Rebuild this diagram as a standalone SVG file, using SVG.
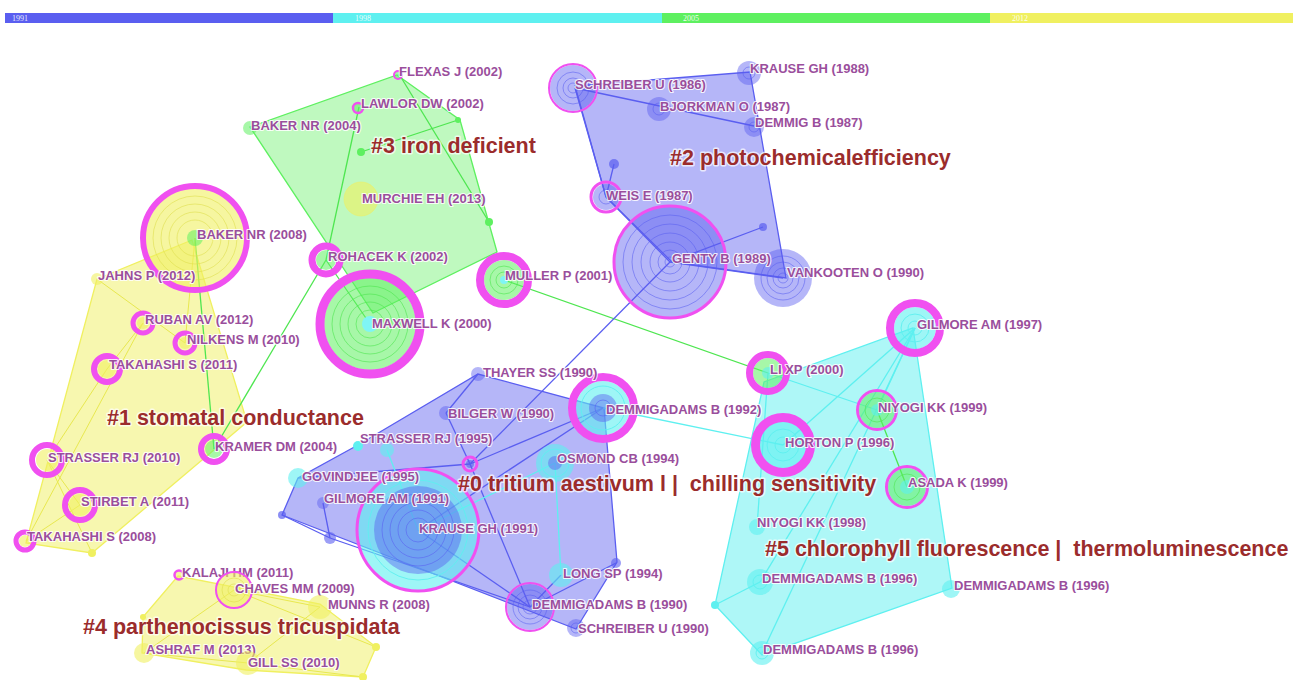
<svg xmlns="http://www.w3.org/2000/svg" width="1293" height="680" viewBox="0 0 1293 680">
<style>
text{font-family:"Liberation Sans",Arial,sans-serif}
.lb{font-size:13px;font-weight:bold;fill:#9a4e9c;stroke:#fff;stroke-width:2.2;stroke-opacity:.85;paint-order:stroke;stroke-linejoin:round}
.cl{font-size:21.5px;font-weight:bold;fill:#9b2c2c;stroke:#fff;stroke-width:3;stroke-opacity:.7;paint-order:stroke;stroke-linejoin:round;white-space:pre}
.yr{font-family:"Liberation Serif",serif;font-size:8px;fill:#fff;fill-opacity:.9}
.pb{fill:#5a5ef0;fill-opacity:.45;stroke:#5a5ef0;stroke-width:1.3}
.pc{fill:#5ef0f0;fill-opacity:.5;stroke:#5ef0f0;stroke-width:1.3}
.pg{fill:#5ef060;fill-opacity:.4;stroke:#5ef060;stroke-width:1.3}
.py{fill:#f0f060;fill-opacity:.5;stroke:#f0f060;stroke-width:1.3}
.eb{stroke:#5a5ef0;stroke-width:1.3}
.ec{stroke:#5ef0f0;stroke-width:1.3}
.eg{stroke:#4ee650;stroke-width:1.3}
.ey{stroke:#e8e850;stroke-width:1}
.b{fill:#5a5ef0;fill-opacity:.45}
.c{fill:#5ef0f0;fill-opacity:.6}
.g{fill:#5ef060;fill-opacity:.55}
.y{fill:#f0f060;fill-opacity:.6}
.m{fill:none;stroke:#f050f0}
.rb{fill:none;stroke:#5a5ef0;stroke-opacity:.55;stroke-width:1}
.rc{fill:none;stroke:#5ef0f0;stroke-opacity:.9;stroke-width:1}
.rg{fill:none;stroke:#4ee650;stroke-opacity:.6;stroke-width:1}
.ry{fill:none;stroke:#e0e050;stroke-opacity:.6;stroke-width:1}
</style>
<rect width="1293" height="680" fill="#fff"/>
<g id="timeline">
<rect x="5" y="13" width="328" height="10" fill="#5a5ef0"/>
<rect x="333" y="13" width="329" height="10" fill="#5ef0f0"/>
<rect x="662" y="13" width="328" height="10" fill="#5ef060"/>
<rect x="990" y="13" width="303" height="10" fill="#f0f060"/>
<text class="yr" x="12" y="21">1991</text>
<text class="yr" x="355" y="21">1998</text>
<text class="yr" x="683" y="21">2005</text>
<text class="yr" x="1012" y="21">2012</text>
</g>
<g id="clusters">
<polygon class="pg" points="397,75 460,120 497,252 373,313 250,127"/>
<polygon class="pb" points="575,86 750,72 786,278 672,262 606,197"/>
<polygon class="py" points="97,279 192,240 247,422 92,553 26,543"/>
<polygon class="pb" points="282,515 298,478 358,445 478,374 604,408 617,562 576,629"/>
<polygon class="pc" points="913,328 952,588 762,655 715,605 764,382"/>
<polygon class="py" points="178,576 320,604 376,647 363,677 246,670 142,653 143,617"/>
</g>
<g id="connectors" fill="none">
<line class="eg" x1="399" y1="74" x2="489" y2="222"/>
<line class="eg" x1="361" y1="152" x2="458" y2="120"/>
<line class="eg" x1="359" y1="107" x2="326" y2="260"/>
<line class="eg" x1="326" y1="260" x2="214" y2="449" stroke-width="1"/>
<line class="eg" x1="195" y1="238" x2="214" y2="449" stroke-width="1"/>
<line class="eg" x1="326" y1="260" x2="370" y2="324" stroke-width="2"/>
<line class="eg" x1="504" y1="280" x2="768" y2="373" stroke-width="1.8"/>
<line class="eg" x1="877" y1="410" x2="907" y2="487" stroke-width="1.8"/>
<line class="eb" x1="575" y1="88" x2="754" y2="126" stroke-width="1.8"/>
<line class="eb" x1="575" y1="88" x2="606" y2="197" stroke-width="1.8"/>
<line class="eb" x1="606" y1="197" x2="670" y2="262" stroke-width="1.8"/>
<line class="eb" x1="614" y1="164" x2="606" y2="197"/>
<line class="eb" x1="670" y1="262" x2="763" y2="227"/>
<line class="eb" x1="670" y1="262" x2="783" y2="278" stroke-width="2.5"/>
<line class="eb" x1="670" y1="262" x2="470" y2="464"/>
<line class="eb" x1="478" y1="374" x2="446" y2="413"/>
<line class="eb" x1="446" y1="413" x2="470" y2="464"/>
<line class="eb" x1="298" y1="478" x2="470" y2="464" stroke-width="1.8"/>
<line class="eb" x1="470" y1="464" x2="603" y2="408" stroke-width="1.8"/>
<line class="eb" x1="418" y1="530" x2="603" y2="408"/>
<line class="eb" x1="418" y1="530" x2="530" y2="607"/>
<line class="eb" x1="470" y1="464" x2="530" y2="607"/>
<line class="eb" x1="282" y1="515" x2="330" y2="538"/>
<line class="eb" x1="323" y1="503" x2="330" y2="538"/>
<line class="eb" x1="330" y1="538" x2="530" y2="607"/>
<line class="eb" x1="561" y1="575" x2="530" y2="607"/>
<line class="eb" x1="530" y1="607" x2="616" y2="563"/>
<line class="ec" x1="387" y1="450" x2="418" y2="530"/>
<line class="ec" x1="555" y1="463" x2="561" y2="575"/>
<line class="ec" x1="555" y1="463" x2="418" y2="530"/>
<line class="ec" x1="603" y1="408" x2="783" y2="445"/>
<line class="ec" x1="915" y1="328" x2="783" y2="445"/>
<line class="ec" x1="915" y1="328" x2="877" y2="410"/>
<line class="ec" x1="915" y1="328" x2="762" y2="653"/>
<line class="ec" x1="915" y1="328" x2="760" y2="582"/>
<line class="ec" x1="768" y1="373" x2="877" y2="410" stroke-width="1.8"/>
<line class="ec" x1="768" y1="373" x2="757" y2="527"/>
<line class="ec" x1="715" y1="605" x2="760" y2="582"/>
<line class="ey" x1="97" y1="279" x2="185" y2="343"/>
<line class="ey" x1="195" y1="238" x2="185" y2="343"/>
<line class="ey" x1="143" y1="323" x2="107" y2="369"/>
<line class="ey" x1="107" y1="369" x2="47" y2="460"/>
<line class="ey" x1="143" y1="323" x2="26" y2="541"/>
<line class="ey" x1="47" y1="460" x2="80" y2="505"/>
<line class="ey" x1="47" y1="460" x2="92" y2="553"/>
<line class="ey" x1="80" y1="505" x2="26" y2="541"/>
<line class="ey" x1="234" y1="590" x2="320" y2="607"/>
<line class="ey" x1="234" y1="590" x2="376" y2="647"/>
<line class="ey" x1="234" y1="590" x2="144" y2="653"/>
<line class="ey" x1="320" y1="607" x2="248" y2="663"/>
<line class="ey" x1="248" y1="663" x2="363" y2="677"/>
<line class="ey" x1="144" y1="653" x2="248" y2="663"/>
</g>
<g id="minor-nodes">
<circle cx="458" cy="120" r="3" fill="#5ef060"/>
<circle cx="489" cy="222" r="4" fill="#5ef060"/>
<circle cx="361" cy="152" r="4" fill="#5ef060"/>
<circle cx="614" cy="164" r="5" fill="#5a5ef0" fill-opacity=".7"/>
<circle cx="763" cy="227" r="4" fill="#5a5ef0" fill-opacity=".7"/>
<circle cx="470" cy="464" r="7" class="m" stroke-width="3"/>
<circle cx="470" cy="464" r="4" fill="#5a5ef0" fill-opacity=".6"/>
<circle cx="282" cy="515" r="4" fill="#5a5ef0" fill-opacity=".7"/>
<circle cx="330" cy="538" r="6" fill="#5a5ef0" fill-opacity=".6"/>
<circle cx="616" cy="563" r="5" fill="#5a5ef0" fill-opacity=".6"/>
<circle cx="358" cy="446" r="5" fill="#5ef0f0"/>
<circle cx="92" cy="553" r="4" fill="#f0f060"/>
<circle cx="715" cy="605" r="4" fill="#5ef0f0"/>
<circle cx="376" cy="647" r="4" fill="#f0f060"/>
<circle cx="363" cy="677" r="4" fill="#f0f060"/>
<circle cx="143" cy="617" r="3" fill="#f0f060"/>
</g>
<g id="n-krause-1991">
<circle cx="418" cy="530" r="60" class="c" fill-opacity=".5"/>
<circle cx="418" cy="530" r="50" class="rc"/>
<circle cx="418" cy="530" r="44" class="b" fill-opacity=".6"/>
<circle cx="418" cy="530" r="36" class="rb"/>
<circle cx="418" cy="530" r="28" class="rb"/>
<circle cx="418" cy="530" r="20" class="rb"/>
<circle cx="418" cy="530" r="12" class="rb"/>
<circle cx="418" cy="530" r="61" class="m" stroke-width="3"/>
<text class="lb" x="419" y="533">KRAUSE GH (1991)</text>
</g>
<g id="n-vankooten">
<circle cx="783" cy="278" r="29" class="b"/>
<circle cx="783" cy="278" r="22" class="rb"/>
<circle cx="783" cy="278" r="16" class="rb"/>
<circle cx="783" cy="278" r="10" class="rb"/>
<circle cx="783" cy="278" r="5" class="rb"/>
<text class="lb" x="787" y="277">VANKOOTEN O (1990)</text>
</g>
<g id="n-genty">
<circle cx="670" cy="262" r="56" class="b" fill-opacity=".4"/>
<circle cx="670" cy="262" r="47" class="rb"/>
<circle cx="670" cy="262" r="38" class="rb"/>
<circle cx="670" cy="262" r="29" class="rb"/>
<circle cx="670" cy="262" r="20" class="rb"/>
<circle cx="670" cy="262" r="12" class="rb"/>
<circle cx="670" cy="262" r="5" class="rb"/>
<circle cx="670" cy="262" r="56" class="m" stroke-width="3"/>
<text class="lb" x="672" y="263">GENTY B (1989)</text>
</g>
<g id="n-baker-2008">
<circle cx="195" cy="238" r="50" class="y" fill-opacity=".45"/>
<circle cx="195" cy="238" r="42" class="ry"/>
<circle cx="195" cy="238" r="34" class="ry"/>
<circle cx="195" cy="238" r="26" class="ry"/>
<circle cx="195" cy="238" r="18" class="ry"/>
<circle cx="195" cy="238" r="8" class="g"/>
<circle cx="195" cy="238" r="52" class="m" stroke-width="6"/>
<text class="lb" x="197" y="239">BAKER NR (2008)</text>
</g>
<g id="n-maxwell">
<circle cx="370" cy="324" r="46" class="g" fill-opacity=".5"/>
<circle cx="370" cy="324" r="38" class="rg"/>
<circle cx="370" cy="324" r="30" class="rg"/>
<circle cx="370" cy="324" r="22" class="rg"/>
<circle cx="370" cy="324" r="14" class="rg"/>
<circle cx="370" cy="324" r="8" fill="#7ff5f5"/>
<circle cx="370" cy="324" r="50" class="m" stroke-width="9"/>
<text class="lb" x="372" y="328">MAXWELL K (2000)</text>
</g>
<g id="n-demmigadams-1992">
<circle cx="603" cy="408" r="27" class="c"/>
<circle cx="603" cy="408" r="22" class="rc" stroke="#fff"/>
<circle cx="603" cy="408" r="14" class="b" fill-opacity=".55"/>
<circle cx="603" cy="408" r="8" class="rb"/>
<circle cx="603" cy="408" r="31" class="m" stroke-width="8"/>
<text class="lb" x="606" y="414">DEMMIGADAMS B (1992)</text>
</g>
<g id="n-horton">
<circle cx="783" cy="445" r="24" class="c"/>
<circle cx="783" cy="445" r="16" class="rc" stroke="#fff"/>
<circle cx="783" cy="445" r="8" class="rc" stroke="#fff"/>
<circle cx="783" cy="445" r="27.5" class="m" stroke-width="9"/>
<text class="lb" x="785" y="447">HORTON P (1996)</text>
</g>
<g id="n-gilmore-1997">
<circle cx="915" cy="328" r="21" class="c"/>
<circle cx="915" cy="328" r="14" class="rc" stroke="#fff"/>
<circle cx="915" cy="328" r="7" class="rc" stroke="#fff"/>
<circle cx="915" cy="328" r="25" class="m" stroke-width="8"/>
<text class="lb" x="917" y="329">GILMORE AM (1997)</text>
</g>
<g id="n-lixp">
<circle cx="768" cy="373" r="15" class="g"/>
<circle cx="768" cy="373" r="6" class="c"/>
<circle cx="768" cy="373" r="18.5" class="m" stroke-width="7"/>
<text class="lb" x="770" y="374">LI XP (2000)</text>
</g>
<g id="n-niyogi-1999">
<circle cx="877" cy="410" r="18" class="g"/>
<circle cx="877" cy="410" r="12" class="rg"/>
<circle cx="877" cy="410" r="6" class="c"/>
<circle cx="877" cy="410" r="19.5" class="m" stroke-width="3"/>
<text class="lb" x="878" y="412">NIYOGI KK (1999)</text>
</g>
<g id="n-asada">
<circle cx="907" cy="487" r="19" class="g"/>
<circle cx="907" cy="487" r="13" class="rg"/>
<circle cx="907" cy="487" r="7" class="c"/>
<circle cx="907" cy="487" r="20.5" class="m" stroke-width="3"/>
<text class="lb" x="908" y="487">ASADA K (1999)</text>
</g>
<g id="n-niyogi-1998">
<circle cx="757" cy="527" r="8" class="c"/>
<text class="lb" x="757" y="527">NIYOGI KK (1998)</text>
</g>
<g id="n-demmigadams-1996a">
<circle cx="760" cy="582" r="13" class="c"/>
<circle cx="760" cy="582" r="7" class="rc" stroke="#fff"/>
<text class="lb" x="762" y="583">DEMMIGADAMS B (1996)</text>
</g>
<g id="n-demmigadams-1996b">
<circle cx="951" cy="589" r="9" class="c"/>
<text class="lb" x="954" y="590">DEMMIGADAMS B (1996)</text>
</g>
<g id="n-demmigadams-1996c">
<circle cx="762" cy="653" r="12" class="c"/>
<circle cx="762" cy="653" r="6" class="rc" stroke="#fff"/>
<text class="lb" x="763" y="654">DEMMIGADAMS B (1996)</text>
</g>
<g id="n-muller">
<circle cx="504" cy="280" r="20" class="g"/>
<circle cx="504" cy="280" r="14" class="rg"/>
<circle cx="504" cy="280" r="8" class="rg"/>
<circle cx="504" cy="280" r="4" fill="#7ff5f5"/>
<circle cx="504" cy="280" r="24" class="m" stroke-width="8"/>
<text class="lb" x="505" y="280">MULLER P (2001)</text>
</g>
<g id="n-rohacek">
<circle cx="326" cy="260" r="10" class="g"/>
<circle cx="326" cy="260" r="14" class="m" stroke-width="7"/>
<text class="lb" x="328" y="261">ROHACEK K (2002)</text>
</g>
<g id="n-murchie">
<circle cx="361" cy="199" r="17" class="y" stroke="#f0f060" stroke-opacity=".5"/>
<text class="lb" x="362" y="203">MURCHIE EH (2013)</text>
</g>
<g id="n-baker-2004">
<circle cx="250" cy="128" r="7" class="g"/>
<text class="lb" x="251" y="130">BAKER NR (2004)</text>
</g>
<g id="n-lawlor">
<circle cx="358" cy="108" r="5" class="g"/>
<circle cx="358" cy="108" r="5" class="m" stroke-width="2.5"/>
<text class="lb" x="361" y="108">LAWLOR DW (2002)</text>
</g>
<g id="n-flexas">
<circle cx="398" cy="75" r="4" class="g"/>
<circle cx="398" cy="75" r="4" class="m" stroke-width="2"/>
<text class="lb" x="399" y="76">FLEXAS J (2002)</text>
</g>
<g id="n-schreiber-1986">
<circle cx="573" cy="88" r="23" class="b"/>
<circle cx="573" cy="88" r="16" class="rb"/>
<circle cx="573" cy="88" r="10" class="rb"/>
<circle cx="573" cy="88" r="5" class="rb"/>
<circle cx="573" cy="88" r="24" class="m" stroke-width="2"/>
<text class="lb" x="575" y="89">SCHREIBER U (1986)</text>
</g>
<g id="n-krause-1988">
<circle cx="749" cy="73" r="12" class="b"/>
<circle cx="749" cy="73" r="6" class="rb"/>
<text class="lb" x="750" y="73">KRAUSE GH (1988)</text>
</g>
<g id="n-bjorkman">
<circle cx="659" cy="109" r="12" class="b"/>
<circle cx="659" cy="109" r="6" class="rb"/>
<text class="lb" x="660" y="111">BJORKMAN O (1987)</text>
</g>
<g id="n-demmig-1987">
<circle cx="754" cy="127" r="10" class="b"/>
<circle cx="754" cy="127" r="5" class="rb"/>
<text class="lb" x="755" y="127">DEMMIG B (1987)</text>
</g>
<g id="n-weis">
<circle cx="606" cy="197" r="13" class="b"/>
<circle cx="606" cy="197" r="7" class="rb"/>
<circle cx="606" cy="197" r="15" class="m" stroke-width="3"/>
<text class="lb" x="606" y="200">WEIS E (1987)</text>
</g>
<g id="n-jahns">
<circle cx="97" cy="279" r="6" class="y"/>
<text class="lb" x="98" y="280">JAHNS P (2012)</text>
</g>
<g id="n-ruban">
<circle cx="143" cy="323" r="6" class="y"/>
<circle cx="143" cy="323" r="10" class="m" stroke-width="5"/>
<text class="lb" x="145" y="324">RUBAN AV (2012)</text>
</g>
<g id="n-nilkens">
<circle cx="185" cy="343" r="6" class="y"/>
<circle cx="185" cy="343" r="10" class="m" stroke-width="5"/>
<text class="lb" x="187" y="344">NILKENS M (2010)</text>
</g>
<g id="n-takahashi-2011">
<circle cx="107" cy="369" r="9" class="y"/>
<circle cx="107" cy="369" r="13" class="m" stroke-width="6"/>
<text class="lb" x="109" y="369">TAKAHASHI S (2011)</text>
</g>
<g id="n-kramer">
<circle cx="214" cy="449" r="9" class="g"/>
<circle cx="214" cy="449" r="13" class="m" stroke-width="6"/>
<text class="lb" x="215" y="451">KRAMER DM (2004)</text>
</g>
<g id="n-strasser-2010">
<circle cx="47" cy="460" r="11" class="y"/>
<circle cx="47" cy="460" r="15" class="m" stroke-width="6"/>
<text class="lb" x="48" y="462">STRASSER RJ (2010)</text>
</g>
<g id="n-stirbet">
<circle cx="80" cy="505" r="11" class="y"/>
<circle cx="80" cy="505" r="15" class="m" stroke-width="6"/>
<text class="lb" x="81" y="506">STIRBET A (2011)</text>
</g>
<g id="n-takahashi-2008">
<circle cx="25" cy="541" r="6" class="y"/>
<circle cx="25" cy="541" r="9" class="m" stroke-width="5"/>
<text class="lb" x="27" y="541">TAKAHASHI S (2008)</text>
</g>
<g id="n-thayer">
<circle cx="478" cy="374" r="7" class="b" fill-opacity=".65"/>
<text class="lb" x="483" y="377">THAYER SS (1990)</text>
</g>
<g id="n-bilger">
<circle cx="446" cy="413" r="7" class="b" fill-opacity=".65"/>
<text class="lb" x="448" y="418">BILGER W (1990)</text>
</g>
<g id="n-strasser-1995">
<circle cx="387" cy="450" r="7" class="c"/>
<text class="lb" x="360" y="443">STRASSER RJ (1995)</text>
</g>
<g id="n-osmond">
<circle cx="555" cy="463" r="19" class="c" fill-opacity=".45"/>
<circle cx="555" cy="463" r="14" class="rc" stroke="#fff"/>
<circle cx="555" cy="463" r="7" class="b" fill-opacity=".7"/>
<text class="lb" x="557" y="463">OSMOND CB (1994)</text>
</g>
<g id="n-govindjee">
<circle cx="298" cy="478" r="10" class="c"/>
<text class="lb" x="302" y="481">GOVINDJEE (1995)</text>
</g>
<g id="n-gilmore-1991">
<circle cx="323" cy="503" r="6" class="b" fill-opacity=".65"/>
<text class="lb" x="324" y="503">GILMORE AM (1991)</text>
</g>
<g id="n-long">
<circle cx="561" cy="575" r="12" class="c"/>
<text class="lb" x="563" y="578">LONG SP (1994)</text>
</g>
<g id="n-demmigadams-1990">
<circle cx="530" cy="607" r="23" class="b"/>
<circle cx="530" cy="607" r="17" class="rb"/>
<circle cx="530" cy="607" r="12" class="rb"/>
<circle cx="530" cy="607" r="7" class="rb"/>
<circle cx="530" cy="607" r="24" class="m" stroke-width="2"/>
<text class="lb" x="532" y="609">DEMMIGADAMS B (1990)</text>
</g>
<g id="n-schreiber-1990">
<circle cx="576" cy="628" r="9" class="b"/>
<circle cx="576" cy="628" r="5" class="rb"/>
<text class="lb" x="578" y="633">SCHREIBER U (1990)</text>
</g>
<g id="n-kalaji">
<circle cx="179" cy="575" r="4" class="y"/>
<circle cx="179" cy="575" r="4.5" class="m" stroke-width="2.5"/>
<text class="lb" x="182" y="577">KALAJI HM (2011)</text>
</g>
<g id="n-chaves">
<circle cx="234" cy="590" r="18" class="y" fill-opacity=".5"/>
<circle cx="234" cy="590" r="12" class="ry"/>
<circle cx="234" cy="590" r="6" class="ry"/>
<circle cx="234" cy="590" r="18" class="m" stroke-width="2"/>
<text class="lb" x="235" y="593">CHAVES MM (2009)</text>
</g>
<g id="n-munns">
<circle cx="320" cy="607" r="12" class="y"/>
<text class="lb" x="328" y="609">MUNNS R (2008)</text>
</g>
<g id="n-ashraf">
<circle cx="144" cy="653" r="10" class="y"/>
<text class="lb" x="146" y="654">ASHRAF M (2013)</text>
</g>
<g id="n-gill">
<circle cx="248" cy="663" r="12" class="y"/>
<text class="lb" x="248" y="667">GILL SS (2010)</text>
</g>
<g id="cluster-labels">
<text class="cl" x="371" y="153">#3 iron deficient</text>
<text class="cl" x="670" y="165">#2 photochemicalefficiency</text>
<text class="cl" x="107" y="425">#1 stomatal conductance</text>
<text class="cl" x="458" y="491" xml:space="preserve">#0 tritium aestivum l |  chilling sensitivity</text>
<text class="cl" x="765" y="556" xml:space="preserve">#5 chlorophyll fluorescence |  thermoluminescence</text>
<text class="cl" x="83" y="634">#4 parthenocissus tricuspidata</text>
</g>
</svg>
